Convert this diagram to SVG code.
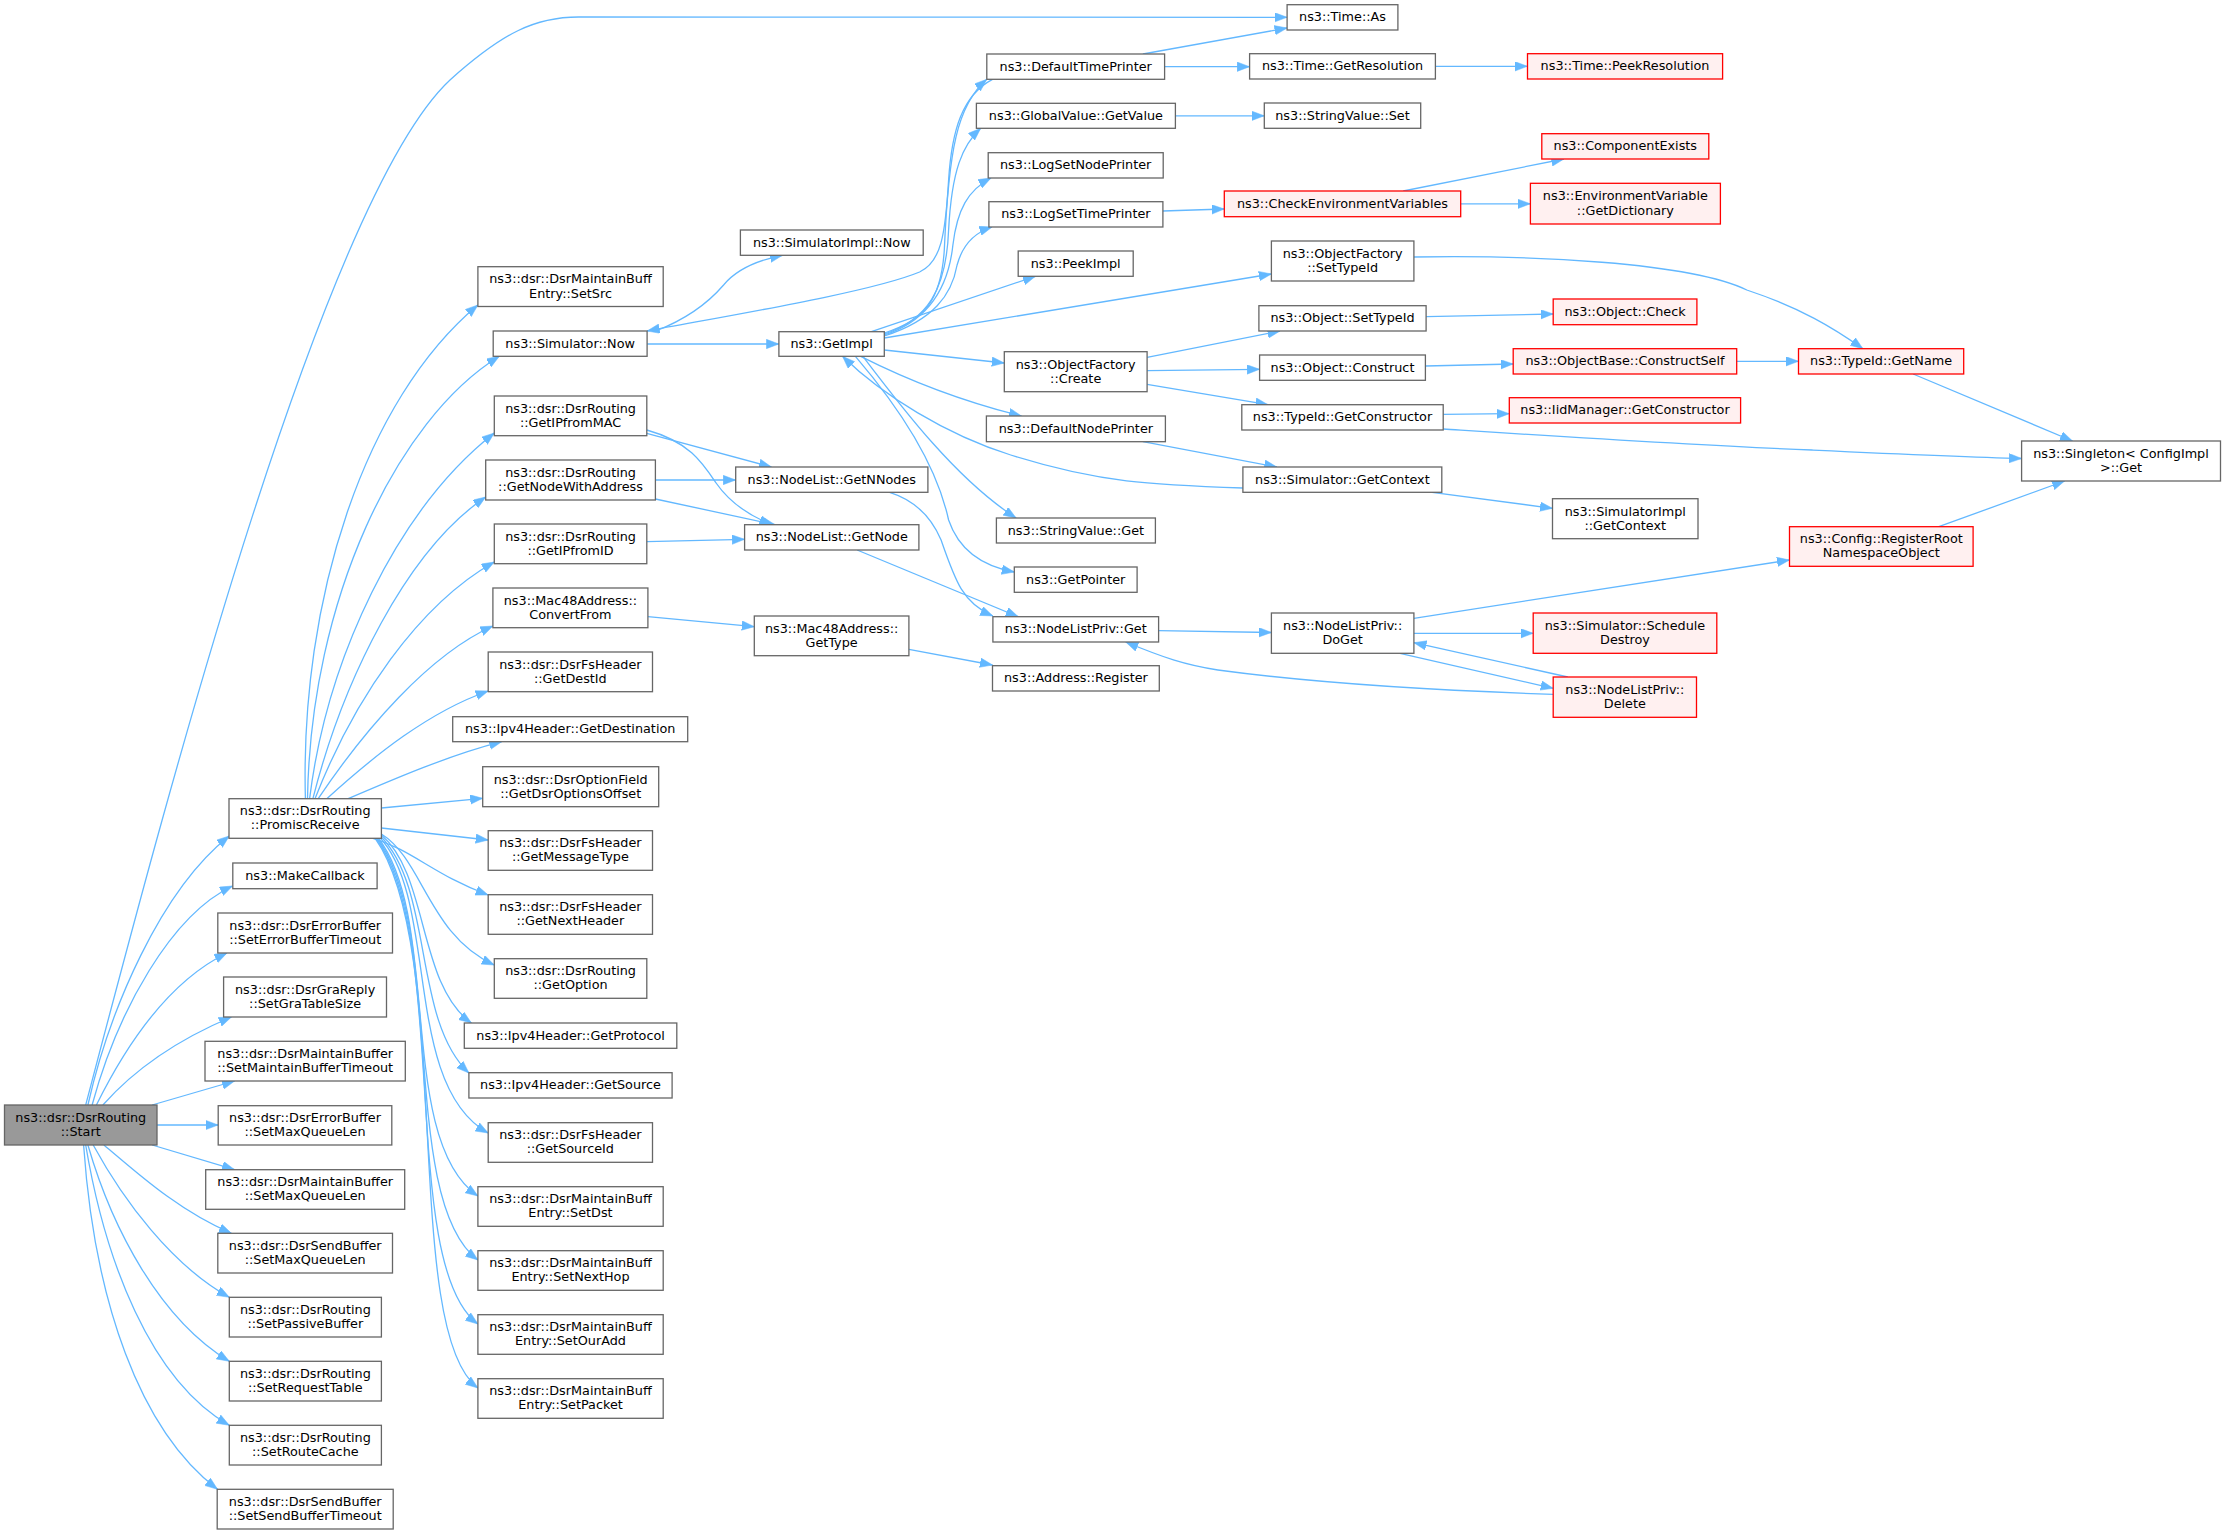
<svg xmlns="http://www.w3.org/2000/svg" width="2227" height="1535" viewBox="0 0 2227 1535">
<defs>
<style>
.n rect{fill:#ffffff;stroke:#666666;stroke-width:1.3}
.r rect{fill:#fff0f0;stroke:#ff0000;stroke-width:1.3}
.s rect{fill:#999999;stroke:#666666;stroke-width:1.3}
text{font-family:"DejaVu Sans","Liberation Sans",sans-serif;font-size:12.8px;text-anchor:middle;fill:#000000}
#edges path{fill:none;stroke:#63b8ff;stroke-width:1.3;marker-end:url(#a)}
</style>
<marker id="a" markerUnits="userSpaceOnUse" markerWidth="14" markerHeight="10" refX="12.5" refY="4.7" orient="auto"><path d="M0,0 L12.5,4.7 L0,9.4 z" fill="#63b8ff" stroke="#63b8ff" stroke-width="0.5"/></marker>
</defs>
<rect x="0" y="0" width="2227" height="1535" fill="#ffffff"/>
<g id="edges">
<path d="M85.7,1105 C160.7,820 321.4,200 450,80 C503.6,32 535.7,17 578.6,17 L1287.1,17.3"/>
<path d="M87.9,1105 C109.3,1010 160.7,890 229.3,836"/>
<path d="M92.1,1105 C117.9,1010 171.4,915 232.5,886"/>
<path d="M96.4,1105 C128.6,1040 171.4,980 227,953"/>
<path d="M102.9,1105 C133.9,1070 176.8,1040 231.4,1017"/>
<path d="M152.1,1105 L234.6,1081"/>
<path d="M157,1125 L218.2,1125"/>
<path d="M152.1,1145 L234.6,1169.7"/>
<path d="M103.9,1145 C133.9,1170 176.8,1210 231.4,1233.3"/>
<path d="M93.2,1145 C123.2,1200 171.4,1265 229.3,1297.3"/>
<path d="M87.9,1145 C112.5,1230 160.7,1320 229.3,1361.3"/>
<path d="M85.7,1145 C105,1260 150,1380 229.3,1425.3"/>
<path d="M83.6,1145 C94.3,1300 139.3,1430 217.5,1489.3"/>
<path d="M305.4,798.7 C300,600 364.3,400 477.9,305"/>
<path d="M307.5,798.7 C310.7,600 396.4,420 499.3,356.3"/>
<path d="M309.6,798.7 C326.8,660 396.4,510 494.3,433"/>
<path d="M312.9,798.7 C342.9,680 407.1,550 485.7,497"/>
<path d="M315,798.7 C353.6,700 417.9,605 494.3,562"/>
<path d="M318.2,798.7 C364.3,730 428.6,655 492.9,626"/>
<path d="M326.8,798.7 C375,755 428.6,712 488.2,691"/>
<path d="M348.2,798.7 C396.4,778 450,755 501.7,741.7"/>
<path d="M381.4,808 L482.7,798.3"/>
<path d="M381.4,828 L488.2,840"/>
<path d="M372.9,838.3 C412.5,850 433.9,875 488.2,895"/>
<path d="M381.4,834 C423.2,860 428.6,935 494.3,965"/>
<path d="M381.4,835 C428.6,875 417.9,985 471.4,1023"/>
<path d="M380.4,836 C433.9,890 412.5,1020 468.9,1073"/>
<path d="M379.3,837 C439.3,900 401.8,1085 488.2,1133"/>
<path d="M378.2,838 C441.4,920 396.4,1140 477.9,1196"/>
<path d="M377.1,838 C445.7,930 398.6,1200 477.9,1260"/>
<path d="M376.1,838 C450,940 398.6,1265 477.9,1324"/>
<path d="M375,838 C454.3,950 400.7,1330 477.9,1388"/>
<path d="M647.1,344 L778.9,344"/>
<path d="M655.7,331 C689.3,318 710.7,300 723.6,285 C737.5,268 758.9,260 782.5,255.3"/>
<path d="M992.5,79.3 C962.5,95 951.8,130 948.6,180 C945.4,235 941.1,262 919.6,272 C871.4,292 732.1,315 647.1,331"/>
<path d="M884.3,333 C925,320 941.1,300 944.3,250 C948.6,150 957.1,105 986.8,79.3"/>
<path d="M884.3,334 C927.1,320 946.4,290 948.6,230 C951.8,170 962.5,145 980.7,128.3"/>
<path d="M884.3,335 C930.4,320 948.6,285 952.9,245 C957.1,210 967.9,190 991,178"/>
<path d="M884.3,336 C933.6,320 951.8,295 957.1,265 C962.5,245 973.2,233 992,227"/>
<path d="M871.4,331.7 L1035.4,276.3"/>
<path d="M884.3,338 L1271.4,274"/>
<path d="M884.3,350 L1004.3,363"/>
<path d="M860.7,356.3 C903.6,378 957.1,400 1021.4,416"/>
<path d="M862.9,356.3 C903.6,410 957.1,480 1016.1,518"/>
<path d="M855.4,356.3 C892.9,400 935.7,460 948.6,520 C957.1,545 976.4,565 1014.3,572"/>
<path d="M1242.9,488 C1153.6,485 1099.3,483 1010.7,455 C946.4,435 882.1,395 842.5,356.3"/>
<path d="M646.8,433.3 L771.4,467"/>
<path d="M646.8,430 C689.3,442 702.1,462 716.1,483 C727.9,500 745,514 771.8,524.7"/>
<path d="M655.4,480 L735.7,480"/>
<path d="M655.4,499 L775,524.7"/>
<path d="M646.8,541.7 L744.6,539.3"/>
<path d="M647.9,616.7 L754.3,626.7"/>
<path d="M908.9,649.3 L992.5,665"/>
<path d="M857.1,550 L1018.2,616.7"/>
<path d="M889.6,492.3 C914.3,500 930.4,515 941.1,540 C955,580 962.5,603 992.9,616"/>
<path d="M1142.9,54 L1287.1,28"/>
<path d="M1164.6,66.7 L1249.6,66.7"/>
<path d="M1435.4,66.3 L1527.5,66.3"/>
<path d="M1175.4,115.8 L1264.3,115.8"/>
<path d="M1162.9,211 L1224.3,209"/>
<path d="M1403.2,191 L1563.9,159"/>
<path d="M1460.7,203.8 L1530.4,203.8"/>
<path d="M1413.9,257 C1528.6,255 1689.3,262 1746.8,290 C1801,308 1833.6,328 1862.9,348.7"/>
<path d="M1426.1,316.7 L1553.2,314"/>
<path d="M1147.1,357.3 L1280,331"/>
<path d="M1147.1,370.7 L1259.6,369.3"/>
<path d="M1147.1,384.3 L1268,404.7"/>
<path d="M1425.4,366 L1513.2,364"/>
<path d="M1736.7,361.3 L1798.5,361.3"/>
<path d="M1443.2,414.3 L1509.3,413.7"/>
<path d="M1443.2,429 C1582.1,438 1703.4,446 1811.9,450 C1898.7,454 1963.7,457 2021.6,458.5"/>
<path d="M1913.1,374 L2072.5,441"/>
<path d="M1142.9,441.7 L1276.8,467"/>
<path d="M1432.1,492.3 L1552.5,508.3"/>
<path d="M1158.6,630.7 L1271.4,632.5"/>
<path d="M1413.9,618.3 L1789.5,560"/>
<path d="M1413.9,633.3 L1533.2,633.3"/>
<path d="M1400,653.3 L1553.2,688.3"/>
<path d="M1567.8,677 L1413.9,642.7"/>
<path d="M1553.2,694.3 C1421.4,690 1314.3,683 1217.9,670 C1185.7,665 1164.3,658 1125.7,642"/>
<path d="M1938.8,526.7 L2064.6,481"/>
</g>
<g id="start" class="s"><rect x="4.5" y="1105" width="152.5" height="40"/><text x="80.75" y="1121.8">ns3::dsr::DsrRouting</text><text x="80.75" y="1135.9">::Start</text></g>
<g id="promisc" class="n"><rect x="229" y="798.7" width="152.4" height="39.6"/><text x="305.2" y="815.3">ns3::dsr::DsrRouting</text><text x="305.2" y="829.4">::PromiscReceive</text></g>
<g id="makecallback" class="n"><rect x="232.8" y="863" width="144.3" height="25.7"/><text x="305" y="879.9">ns3::MakeCallback</text></g>
<g id="errtimeout" class="n"><rect x="217.8" y="913" width="174.7" height="40"/><text x="305.2" y="929.8">ns3::dsr::DsrErrorBuffer</text><text x="305.2" y="943.9">::SetErrorBufferTimeout</text></g>
<g id="gratable" class="n"><rect x="223.6" y="977" width="162.9" height="40"/><text x="305.1" y="993.8">ns3::dsr::DsrGraReply</text><text x="305.1" y="1007.9">::SetGraTableSize</text></g>
<g id="mainttimeout" class="n"><rect x="205" y="1041.3" width="200.3" height="39.7"/><text x="305.2" y="1057.95">ns3::dsr::DsrMaintainBuffer</text><text x="305.2" y="1072.05">::SetMaintainBufferTimeout</text></g>
<g id="errmaxq" class="n"><rect x="218.2" y="1105.7" width="173.6" height="39.3"/><text x="305" y="1122.15">ns3::dsr::DsrErrorBuffer</text><text x="305" y="1136.25">::SetMaxQueueLen</text></g>
<g id="maintmaxq" class="n"><rect x="205.7" y="1169.7" width="199" height="39.6"/><text x="305.2" y="1186.3">ns3::dsr::DsrMaintainBuffer</text><text x="305.2" y="1200.4">::SetMaxQueueLen</text></g>
<g id="sendmaxq" class="n"><rect x="217.8" y="1233.3" width="174.7" height="39.7"/><text x="305.2" y="1249.95">ns3::dsr::DsrSendBuffer</text><text x="305.2" y="1264.05">::SetMaxQueueLen</text></g>
<g id="passive" class="n"><rect x="229.3" y="1297.3" width="152.1" height="39.7"/><text x="305.35" y="1313.95">ns3::dsr::DsrRouting</text><text x="305.35" y="1328.05">::SetPassiveBuffer</text></g>
<g id="request" class="n"><rect x="229.3" y="1361.3" width="152.1" height="39.7"/><text x="305.35" y="1377.95">ns3::dsr::DsrRouting</text><text x="305.35" y="1392.05">::SetRequestTable</text></g>
<g id="routecache" class="n"><rect x="229.3" y="1425.3" width="152.1" height="39.7"/><text x="305.35" y="1441.95">ns3::dsr::DsrRouting</text><text x="305.35" y="1456.05">::SetRouteCache</text></g>
<g id="sendtimeout" class="n"><rect x="217.2" y="1489.3" width="176" height="39.7"/><text x="305.2" y="1505.95">ns3::dsr::DsrSendBuffer</text><text x="305.2" y="1520.05">::SetSendBufferTimeout</text></g>
<g id="setsrc" class="n"><rect x="477.9" y="266.7" width="185.3" height="39.8"/><text x="570.5" y="283.4">ns3::dsr::DsrMaintainBuff</text><text x="570.5" y="297.5">Entry::SetSrc</text></g>
<g id="simnow" class="n"><rect x="493.2" y="331" width="153.9" height="25.3"/><text x="570.15" y="347.65">ns3::Simulator::Now</text></g>
<g id="ipfrommac" class="n"><rect x="494.3" y="396" width="152.5" height="39.7"/><text x="570.55" y="412.65">ns3::dsr::DsrRouting</text><text x="570.55" y="426.75">::GetIPfromMAC</text></g>
<g id="nodewithaddr" class="n"><rect x="485.7" y="460" width="169.7" height="40"/><text x="570.55" y="476.8">ns3::dsr::DsrRouting</text><text x="570.55" y="490.9">::GetNodeWithAddress</text></g>
<g id="ipfromid" class="n"><rect x="494.3" y="524" width="152.5" height="39.7"/><text x="570.55" y="540.65">ns3::dsr::DsrRouting</text><text x="570.55" y="554.75">::GetIPfromID</text></g>
<g id="convertfrom" class="n"><rect x="492.9" y="588" width="155" height="39.7"/><text x="570.4" y="604.65">ns3::Mac48Address::</text><text x="570.4" y="618.75">ConvertFrom</text></g>
<g id="destid" class="n"><rect x="488.2" y="652" width="164.3" height="39.7"/><text x="570.35" y="668.65">ns3::dsr::DsrFsHeader</text><text x="570.35" y="682.75">::GetDestId</text></g>
<g id="destination" class="n"><rect x="452.7" y="716.7" width="235" height="25"/><text x="570.2" y="733.2">ns3::Ipv4Header::GetDestination</text></g>
<g id="optoffset" class="n"><rect x="482.7" y="766.7" width="176" height="40"/><text x="570.7" y="783.5">ns3::dsr::DsrOptionField</text><text x="570.7" y="797.6">::GetDsrOptionsOffset</text></g>
<g id="msgtype" class="n"><rect x="488.2" y="830.7" width="164.3" height="39.6"/><text x="570.35" y="847.3">ns3::dsr::DsrFsHeader</text><text x="570.35" y="861.4">::GetMessageType</text></g>
<g id="nextheader" class="n"><rect x="488.2" y="894.7" width="164.3" height="39.6"/><text x="570.35" y="911.3">ns3::dsr::DsrFsHeader</text><text x="570.35" y="925.4">::GetNextHeader</text></g>
<g id="getoption" class="n"><rect x="494.3" y="958.7" width="152.5" height="39.6"/><text x="570.55" y="975.3">ns3::dsr::DsrRouting</text><text x="570.55" y="989.4">::GetOption</text></g>
<g id="protocol" class="n"><rect x="464.3" y="1023" width="212.5" height="25.3"/><text x="570.55" y="1039.65">ns3::Ipv4Header::GetProtocol</text></g>
<g id="source" class="n"><rect x="468.9" y="1072.7" width="203.2" height="25.3"/><text x="570.5" y="1089.35">ns3::Ipv4Header::GetSource</text></g>
<g id="sourceid" class="n"><rect x="488.2" y="1122.7" width="164.3" height="39.6"/><text x="570.35" y="1139.3">ns3::dsr::DsrFsHeader</text><text x="570.35" y="1153.4">::GetSourceId</text></g>
<g id="setdst" class="n"><rect x="477.9" y="1186.7" width="185.3" height="39.6"/><text x="570.5" y="1203.3">ns3::dsr::DsrMaintainBuff</text><text x="570.5" y="1217.4">Entry::SetDst</text></g>
<g id="setnexthop" class="n"><rect x="477.9" y="1250.7" width="185.3" height="39.6"/><text x="570.5" y="1267.3">ns3::dsr::DsrMaintainBuff</text><text x="570.5" y="1281.4">Entry::SetNextHop</text></g>
<g id="setouradd" class="n"><rect x="477.9" y="1314.7" width="185.3" height="39.6"/><text x="570.5" y="1331.3">ns3::dsr::DsrMaintainBuff</text><text x="570.5" y="1345.4">Entry::SetOurAdd</text></g>
<g id="setpacket" class="n"><rect x="477.9" y="1378.7" width="185.3" height="39.6"/><text x="570.5" y="1395.3">ns3::dsr::DsrMaintainBuff</text><text x="570.5" y="1409.4">Entry::SetPacket</text></g>
<g id="simimplnow" class="n"><rect x="740.4" y="230" width="182.8" height="25.3"/><text x="831.8" y="246.65">ns3::SimulatorImpl::Now</text></g>
<g id="getimpl" class="n"><rect x="778.9" y="331.7" width="105.4" height="24.6"/><text x="831.6" y="348">ns3::GetImpl</text></g>
<g id="getnnodes" class="n"><rect x="735.7" y="467" width="192.2" height="25.3"/><text x="831.8" y="483.65">ns3::NodeList::GetNNodes</text></g>
<g id="getnode" class="n"><rect x="744.6" y="524.7" width="174.3" height="25.3"/><text x="831.75" y="541.35">ns3::NodeList::GetNode</text></g>
<g id="gettype" class="n"><rect x="754.3" y="616" width="154.6" height="39.7"/><text x="831.6" y="632.65">ns3::Mac48Address::</text><text x="831.6" y="646.75">GetType</text></g>
<g id="defaulttimeprinter" class="n"><rect x="986.8" y="54" width="177.8" height="25.3"/><text x="1075.7" y="70.65">ns3::DefaultTimePrinter</text></g>
<g id="getvalue" class="n"><rect x="976.4" y="103.3" width="199" height="25"/><text x="1075.9" y="119.8">ns3::GlobalValue::GetValue</text></g>
<g id="logsetnodeprinter" class="n"><rect x="988.2" y="152.7" width="175" height="25.3"/><text x="1075.7" y="169.35">ns3::LogSetNodePrinter</text></g>
<g id="logsettimeprinter" class="n"><rect x="988.9" y="201.7" width="174" height="25.3"/><text x="1075.9" y="218.35">ns3::LogSetTimePrinter</text></g>
<g id="peekimpl" class="n"><rect x="1018.2" y="251" width="115" height="25.3"/><text x="1075.7" y="267.65">ns3::PeekImpl</text></g>
<g id="create" class="n"><rect x="1004.3" y="351.7" width="142.8" height="40"/><text x="1075.7" y="368.5">ns3::ObjectFactory</text><text x="1075.7" y="382.6">::Create</text></g>
<g id="defaultnodeprinter" class="n"><rect x="986.4" y="416" width="179" height="25.7"/><text x="1075.9" y="432.85">ns3::DefaultNodePrinter</text></g>
<g id="stringvalueget" class="n"><rect x="996.4" y="518" width="159" height="25"/><text x="1075.9" y="534.5">ns3::StringValue::Get</text></g>
<g id="getpointer" class="n"><rect x="1014.3" y="567" width="122.8" height="25.3"/><text x="1075.7" y="583.65">ns3::GetPointer</text></g>
<g id="nodelistprivget" class="n"><rect x="992.9" y="616.7" width="165.7" height="25.3"/><text x="1075.75" y="633.35">ns3::NodeListPriv::Get</text></g>
<g id="addressregister" class="n"><rect x="992.5" y="665.7" width="166.8" height="25.3"/><text x="1075.9" y="682.35">ns3::Address::Register</text></g>
<g id="timeas" class="n"><rect x="1287.1" y="4.7" width="110.8" height="25.3"/><text x="1342.5" y="21.35">ns3::Time::As</text></g>
<g id="getresolution" class="n"><rect x="1249.6" y="53.7" width="185.8" height="25.3"/><text x="1342.5" y="70.35">ns3::Time::GetResolution</text></g>
<g id="stringvalueset" class="n"><rect x="1264.3" y="103" width="156.4" height="25.3"/><text x="1342.5" y="119.65">ns3::StringValue::Set</text></g>
<g id="checkenv" class="r"><rect x="1224.3" y="191" width="236.4" height="25.7"/><text x="1342.5" y="207.85">ns3::CheckEnvironmentVariables</text></g>
<g id="ofsettypeid" class="n"><rect x="1271.4" y="241" width="142.5" height="40"/><text x="1342.65" y="257.8">ns3::ObjectFactory</text><text x="1342.65" y="271.9">::SetTypeId</text></g>
<g id="objsettypeid" class="n"><rect x="1258.9" y="305.7" width="167.2" height="25.3"/><text x="1342.5" y="322.35">ns3::Object::SetTypeId</text></g>
<g id="construct" class="n"><rect x="1259.6" y="355" width="165.8" height="25.3"/><text x="1342.5" y="371.65">ns3::Object::Construct</text></g>
<g id="getconstructor" class="n"><rect x="1241.8" y="404.7" width="201.4" height="25.3"/><text x="1342.5" y="421.35">ns3::TypeId::GetConstructor</text></g>
<g id="simgetcontext" class="n"><rect x="1242.9" y="467" width="198.9" height="25.3"/><text x="1342.35" y="483.65">ns3::Simulator::GetContext</text></g>
<g id="doget" class="n"><rect x="1271.4" y="613" width="142.5" height="40.3"/><text x="1342.65" y="629.95">ns3::NodeListPriv::</text><text x="1342.65" y="644.05">DoGet</text></g>
<g id="peekresolution" class="r"><rect x="1527.5" y="53.7" width="195.1" height="25.3"/><text x="1625" y="70.35">ns3::Time::PeekResolution</text></g>
<g id="componentexists" class="r"><rect x="1541.8" y="133.7" width="167" height="25.3"/><text x="1625.3" y="150.35">ns3::ComponentExists</text></g>
<g id="getdictionary" class="r"><rect x="1530.4" y="183.3" width="190" height="40.7"/><text x="1625.4" y="200.45">ns3::EnvironmentVariable</text><text x="1625.4" y="214.55">::GetDictionary</text></g>
<g id="objcheck" class="r"><rect x="1553.2" y="299" width="143.7" height="25.7"/><text x="1625" y="315.85">ns3::Object::Check</text></g>
<g id="constructself" class="r"><rect x="1513.2" y="348.7" width="223.5" height="25.3"/><text x="1625" y="365.35">ns3::ObjectBase::ConstructSelf</text></g>
<g id="iidgetconstructor" class="r"><rect x="1509.3" y="397.7" width="231.3" height="25.3"/><text x="1625" y="414.35">ns3::IidManager::GetConstructor</text></g>
<g id="simimplgetcontext" class="n"><rect x="1552.5" y="498.7" width="145.5" height="40"/><text x="1625.25" y="515.5">ns3::SimulatorImpl</text><text x="1625.25" y="529.6">::GetContext</text></g>
<g id="scheduledestroy" class="r"><rect x="1533.2" y="613" width="183.6" height="40.3"/><text x="1625" y="629.95">ns3::Simulator::Schedule</text><text x="1625" y="644.05">Destroy</text></g>
<g id="delete" class="r"><rect x="1553.2" y="677" width="143.3" height="40.3"/><text x="1624.85" y="693.95">ns3::NodeListPriv::</text><text x="1624.85" y="708.05">Delete</text></g>
<g id="getname" class="r"><rect x="1798.5" y="348.7" width="165.2" height="25.3"/><text x="1881.1" y="365.35">ns3::TypeId::GetName</text></g>
<g id="registerroot" class="r"><rect x="1789.5" y="526.7" width="183.6" height="39.6"/><text x="1881.3" y="543.3">ns3::Config::RegisterRoot</text><text x="1881.3" y="557.4">NamespaceObject</text></g>
<g id="singleton" class="n"><rect x="2021.6" y="441" width="198.9" height="40"/><text x="2121" y="457.8">ns3::Singleton&lt; ConfigImpl</text><text x="2121" y="471.9">&gt;::Get</text></g>
</svg>
